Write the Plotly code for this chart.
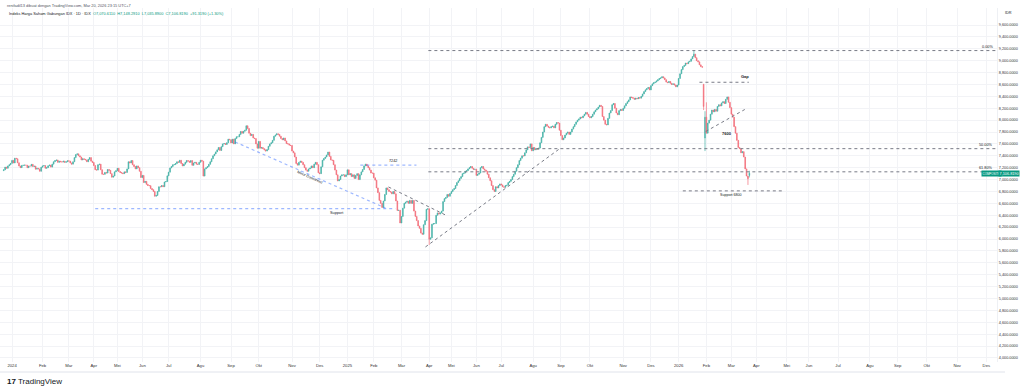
import plotly.graph_objects as go

# ---------------- data ----------------
tick_labels = ["2024", "Feb", "Mar", "Apr", "Mei", "Jun", "Jul", "Agu", "Sep", "Okt", "Nov", "Des",
               "2025", "Feb", "Mar", "Apr", "Mei", "Jun", "Jul", "Agu", "Sep", "Okt", "Nov", "Des",
               "2026", "Feb", "Mar", "Apr", "Mei", "Jun", "Jul", "Agu", "Sep", "Okt", "Nov", "Des"]
# trading days per month (bar counts), used for the time scale
month_days = [22, 19, 18, 17, 18, 19, 23, 22, 20, 24, 20, 20,
              19, 20, 20, 16, 18, 18, 23, 20, 21, 24, 20, 20,
              20, 18, 18, 22, 16, 21, 23, 20, 21, 22, 21]

dec23 = [7165, 7210, 7190, 7230, 7250, 7273]
jan24 = [7323, 7279, 7360, 7350, 7283, 7228, 7201, 7238, 7241, 7243, 7242, 7200, 7228, 7227, 7256, 7220, 7227, 7175, 7190, 7180, 7140, 7207]
feb24 = [7230, 7235, 7190, 7200, 7232, 7245, 7210, 7260, 7300, 7320, 7330, 7290, 7310, 7300, 7295, 7310, 7290, 7300, 7316]
mar24 = [7311, 7280, 7260, 7300, 7370, 7420, 7433, 7400, 7380, 7330, 7350, 7340, 7330, 7300, 7340, 7370, 7310, 7288]
apr24 = [7236, 7166, 7160, 7250, 7260, 7165, 7090, 7088, 7120, 7110, 7170, 7155, 7100, 7040, 7060, 7130, 7150]
may24 = [7190, 7135, 7120, 7110, 7100, 7130, 7120, 7180, 7300, 7280, 7320, 7250, 7220, 7180, 7230, 7200, 7140, 7034]
jun24 = [7070, 6950, 6970, 6920, 6900, 6898, 6850, 6830, 6800, 6720, 6734, 6800, 6880, 6879, 6900, 6880, 6960, 6967, 7063]
jul24 = [7125, 7196, 7220, 7250, 7253, 7270, 7300, 7290, 7325, 7270, 7230, 7260, 7290, 7320, 7310, 7290, 7320, 7240, 7280, 7290, 7260, 7255, 7290]
aug24 = [7325, 7310, 7059, 7180, 7200, 7220, 7257, 7300, 7350, 7400, 7430, 7466, 7500, 7540, 7490, 7554, 7600, 7606, 7590, 7620, 7680, 7670]
sep24 = [7616, 7680, 7600, 7690, 7720, 7720, 7760, 7810, 7780, 7812, 7830, 7905, 7860, 7780, 7740, 7760, 7700, 7690, 7600, 7528]
oct24 = [7642, 7528, 7540, 7520, 7500, 7480, 7504, 7560, 7600, 7620, 7660, 7730, 7750, 7770, 7760, 7730, 7690, 7670, 7700, 7650, 7606, 7600, 7580, 7574]
nov24 = [7480, 7450, 7380, 7270, 7243, 7290, 7310, 7290, 7250, 7200, 7160, 7140, 7180, 7195, 7230, 7200, 7260, 7290, 7250, 7114]
dec24 = [7100, 7215, 7326, 7355, 7380, 7414, 7464, 7390, 7330, 7324, 7250, 7160, 7080, 6977, 7000, 7060, 7080, 7080, 7050, 7080]
jan25 = [7164, 7080, 7100, 7050, 7080, 7020, 7070, 7100, 7000, 7080, 7130, 7170, 7230, 7260, 7230, 7200, 7160, 7110, 7109]
feb25 = [7030, 6990, 6860, 6780, 6650, 6600, 6530, 6640, 6750, 6860, 6830, 6800, 6790, 6760, 6800, 6760, 6640, 6480, 6485, 6270]
mar25 = [6380, 6520, 6600, 6620, 6636, 6600, 6650, 6600, 6650, 6470, 6380, 6310, 6220, 6180, 6100, 6080, 6240, 6310, 6500, 6510]
apr25 = [5996, 6020, 6250, 6260, 6260, 6400, 6440, 6420, 6440, 6470, 6630, 6680, 6700, 6750, 6720, 6766]
may25 = [6800, 6830, 6850, 6900, 6950, 6980, 7020, 7050, 7100, 7110, 7140, 7150, 7180, 7200, 7220, 7190, 7170, 7175]
jun25 = [7070, 7090, 7110, 7200, 7220, 7180, 7160, 7140, 7090, 7030, 6980, 6900, 6830, 6800, 6880, 6860, 6900, 6927]
jul25 = [6910, 6880, 6870, 6900, 6905, 6950, 6970, 7000, 7050, 7090, 7140, 7200, 7250, 7320, 7360, 7400, 7398, 7450, 7500, 7550, 7540, 7600, 7484]
aug25 = [7540, 7500, 7520, 7510, 7530, 7620, 7710, 7800, 7890, 7930, 7900, 7880, 7870, 7890, 7900, 7870, 7930, 7960, 7950, 7830]
sep25 = [7740, 7670, 7700, 7750, 7780, 7800, 7760, 7800, 7850, 7890, 7930, 7970, 8000, 8020, 8050, 8040, 8070, 8100, 8130, 8100, 8061]
oct25 = [8040, 8060, 8100, 8140, 8170, 8190, 8220, 8250, 8230, 8060, 8000, 7930, 7920, 8030, 8120, 8160, 8260, 8280, 8200, 8120, 8090, 8160, 8180, 8163]
nov25 = [8200, 8240, 8280, 8310, 8340, 8390, 8380, 8370, 8350, 8370, 8360, 8380, 8370, 8400, 8440, 8480, 8510, 8530, 8550, 8508]
dec25 = [8580, 8610, 8630, 8640, 8660, 8680, 8700, 8710, 8730, 8710, 8680, 8640, 8630, 8650, 8620, 8600, 8610, 8590, 8560, 8590]
jan26 = [8700, 8780, 8850, 8900, 8920, 8960, 8950, 8980, 8990, 9030, 9070, 9110, 9050, 9000, 8980, 8930, 8900, 8890, 8230, 8050]
feb26 = [7780, 7950, 8000, 8100, 8170, 8140, 8180, 8150, 8230, 8260, 8240, 8290, 8310, 8280, 8350, 8390, 8300, 8210]
mar26 = [8100, 8050, 7890, 7780, 7660, 7540, 7520, 7450, 7470, 7380, 7180, 7060, 7015.5, 7106.819]

first_open = 7150
# bars whose open / high / low differ from the simple case (bar index -> value)
open_override = {499: 8600, 500: 7700, 532: 7070.611}
high_override = {492: 9170, 499: 8610, 500: 8150, 501: 8300, 532: 7148.291}
low_override = {301: 5900, 499: 8170, 500: 7480, 531: 6910, 532: 7035.89}

price_ticks = list(range(4000, 9601, 200))

# drawing levels
fib_high, fib_low = 9170, 5870
support_level = 6510
level_7242 = 7242
gap_level = 8637
support_6800 = 6810

# ---------------- build candles ----------------
closes = (dec23 + jan24 + feb24 + mar24 + apr24 + may24 + jun24 + jul24 + aug24 + sep24 + oct24 + nov24 + dec24
          + jan25 + feb25 + mar25 + apr25 + may25 + jun25 + jul25 + aug25 + sep25 + oct25 + nov25 + dec25
          + jan26 + feb26 + mar26)
start = -len(dec23)
bars = list(range(start, start + len(closes)))
opens, highs, lows = [], [], []
prev = first_open
for n, c in zip(bars, closes):
    o = open_override.get(n, prev)
    opens.append(o)
    highs.append(high_override.get(n, max(o, c)))
    lows.append(low_override.get(n, min(o, c)))
    prev = c

tickvals = [0]
for d in month_days:
    tickvals.append(tickvals[-1] + d)

UP, DOWN = "#26a69a", "#f25664"
TAG = "#089981"
fig = go.Figure(go.Candlestick(
    x=bars, open=opens, high=highs, low=lows, close=closes,
    increasing=dict(line=dict(color=UP, width=0.7), fillcolor=UP),
    decreasing=dict(line=dict(color=DOWN, width=0.7), fillcolor=DOWN),
    whiskerwidth=0, hoverinfo="skip", showlegend=False, opacity=0.85))

W, H = 1024, 390
ML, MR, MT, MB = 0, 27, 8, 28
PW, PH = W - ML - MR, H - MT - MB
X0, X1 = -8.7, 710.7
Y0, Y1 = 3932, 9886

def px(x):
    return (x - ML) / PW

def py(y):
    return (H - MB - y) / PH

FONT = "Liberation Sans"
TXT = "#131722"
annotations = []

def ann(text, x, y, size=4, color=TXT, xanchor="center", yanchor="middle", **kw):
    annotations.append(dict(text=text, x=px(x), y=py(y), xref="paper", yref="paper",
                            showarrow=False, xanchor=xanchor, yanchor=yanchor,
                            font=dict(size=size, color=color, family=FONT), **kw))

def dann(text, x, y, size=4, color=TXT, xanchor="center", yanchor="middle", **kw):
    annotations.append(dict(text=text, x=x, y=y, xref="x", yref="y", showarrow=False,
                            xanchor=xanchor, yanchor=yanchor,
                            font=dict(size=size, color=color, family=FONT), **kw))

shapes = []
BLUE = "rgba(41,98,255,0.45)"
GRAY = "#787b86"

def seg(x0, y0, x1, y1, color, dash="dot", width=1):
    shapes.append(dict(type="line", xref="x", yref="y", x0=x0, y0=y0, x1=x1, y1=y1,
                       line=dict(color=color, dash=dash, width=width)))

# fib levels
fib_levels = [(0.0, "0.00%"), (0.5, "50.00%"), (0.618, "61.80%")]
for r, lab in fib_levels:
    lv = fib_high - r * (fib_high - fib_low)
    seg(300.4, lv, X1, lv, GRAY, "dot")
    dann(lab, 709, lv, size=3.8, xanchor="right", yanchor="bottom")

# blue drawings
seg(60, support_level, 276.6, support_level, BLUE, "dot", 1.2)
dann("Support", 234.7, support_level, size=3.8, yanchor="top")
seg(161, 7632, 269.4, 6522, BLUE, "dot", 1.2)
ann("Minor Downtrend", 309, 177.5, size=3.6, textangle=24)
seg(251.3, level_7242, 291.8, level_7242, BLUE, "dot", 1.2)
dann("7242", 275, level_7242, size=3.8, yanchor="bottom")

# gray trend lines
seg(271.6, 6876, 314.2, 6388, GRAY, "dot")
seg(298.3, 5867, 395.8, 7531, GRAY, "dot")
seg(500.5, 7809, 528.7, 8179, GRAY, "dot")

# gap & supports
seg(496, gap_level, 531.6, gap_level, GRAY, "dot")
ann("<b>Gap</b>", 745, 76, size=4)
ann("<b>7600</b>", 727, 133, size=4)
seg(484, support_6800, 555.4, support_6800, GRAY, "dot")
dann("Support 6800", 519, support_6800, size=3.6, yanchor="top")

# header
ann("renifadil13 dibuat dengan TradingView.com, Mar 20, 2026 23:15 UTC+7", 5, 5, size=3.9,
    color="#50535e", xanchor="left")
ann("Indeks Harga Saham Gabungan IDX · 1D · IDX  "
    "<span style='color:#089981'>O7,070.6110  H7,148.2910  L7,035.8900  C7,106.8190  +91.3190 (+1.30%)</span>",
    7, 13, size=3.9, xanchor="left")
ann("IDR", 1008, 13, size=3.8)

# last price tags
ann("COMPOSITE", 991, 173.6, size=2.9, color="white", bgcolor=TAG, borderpad=0.6)
ann("7,106.8190", 1009, 173.6, size=3.8, color="white", bgcolor=TAG, borderpad=0.6)

# logo
ann("<b>17</b> TradingView", 5, 381, size=8, xanchor="left")

# time axis bottom border
shapes.append(dict(type="line", xref="paper", yref="paper", x0=0, x1=(1005 - ML) / PW,
                   y0=py(372), y1=py(372), line=dict(color="#e0e3eb", width=1)))

fig.update_layout(
    width=W, height=H, margin=dict(l=ML, r=MR, t=MT, b=MB),
    paper_bgcolor="white", plot_bgcolor="white",
    font=dict(family=FONT, size=4, color=TXT),
    shapes=shapes, annotations=annotations, showlegend=False,
    xaxis=dict(range=[X0, X1], tickvals=tickvals, ticktext=tick_labels,
               showgrid=True, gridcolor="#f2f3f6", gridwidth=1, zeroline=False,
               showline=False, ticks="", tickfont=dict(size=4.2, color="#333"),
               rangeslider=dict(visible=False), fixedrange=True),
    yaxis=dict(range=[Y0, Y1], side="right", tickvals=price_ticks,
               ticktext=[f"{v:,.4f}" for v in price_ticks],
               showgrid=True, gridcolor="#f2f3f6", gridwidth=1, zeroline=False,
               showline=True, linecolor="#eef0f4", ticks="",
               tickfont=dict(size=3.8, color="#333"), fixedrange=True),
)

fig.write_html("out.html", config={"displayModeBar": False},
               post_script="document.body.style.margin='0px';document.body.style.overflow='hidden';")
